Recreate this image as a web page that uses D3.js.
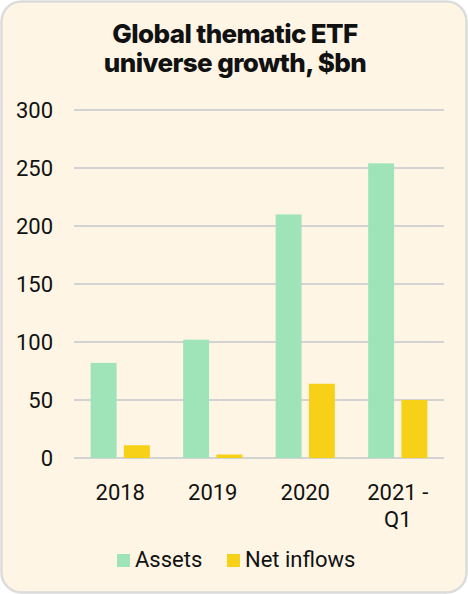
<!DOCTYPE html>
<html>
<head>
<meta charset="utf-8">
<script src="https://cdn.jsdelivr.net/npm/d3@7"></script>
<style>
  html, body { margin: 0; padding: 0; background: #ffffff; }
  svg { display: block; }
</style>
</head>
<body>
<svg id="chart" width="468" height="594"></svg>
<script>
const categories = ["2018", "2019", "2020", "2021 - Q1"];
const seriesNames = ["Assets", "Net inflows"];
const assets = [82, 102, 210, 254];
const netInflows = [11, 3, 64, 50];
const yTicks = [0, 50, 100, 150, 200, 250, 300];

const colors = { "Assets": "#9fe4b8", "Net inflows": "#f7d117" };

const svg = d3.select("#chart");
const width = +svg.attr("width");
const height = +svg.attr("height");
const margins = { top: 110, right: 24, bottom: 136, left: 74 };
const plotW = width - margins.left - margins.right;
const plotH = height - margins.top - margins.bottom;

// card background
svg.append("rect")
  .attr("x", 1.5).attr("y", 1.5)
  .attr("width", width - 3).attr("height", height - 3)
  .attr("rx", 20)
  .attr("fill", "#fef5e5")
  .attr("stroke", "#dcdcdc")
  .attr("stroke-width", 2.5);

// title
const title = svg.append("text")
  .attr("text-anchor", "middle")
  .attr("font-family", "Inter")
  .attr("font-weight", 800)
  .attr("font-size", "26px")
  .attr("letter-spacing", "-0.6px")
  .attr("fill", "#111");
title.append("tspan").attr("x", width / 2 + 1).attr("y", 43).text("Global thematic ETF");
title.append("tspan").attr("x", width / 2 + 1).attr("y", 72).text("universe growth, $bn");

const g = svg.append("g").attr("transform", `translate(${margins.left},${margins.top})`);

const y = d3.scaleLinear().domain([0, 300]).range([plotH, 0]);
const x0 = d3.scaleBand().domain(categories).range([0, plotW]).paddingInner(0.36).paddingOuter(0.18);
const x1 = d3.scaleBand().domain(seriesNames).range([0, x0.bandwidth()]).paddingInner(0.22);

// gridlines
g.selectAll(".grid")
  .data(yTicks)
  .enter()
  .append("line")
  .attr("x1", 0).attr("x2", plotW)
  .attr("y1", d => y(d)).attr("y2", d => y(d))
  .attr("stroke", "#d3d3d3")
  .attr("stroke-width", 2);

// y axis labels
const yAxis = g.append("g").call(d3.axisLeft(y).tickValues(yTicks).tickSize(0).tickPadding(21));
yAxis.select(".domain").remove();
yAxis.selectAll("text")
  .attr("font-family", "Roboto")
  .attr("font-size", "22px")
  .attr("fill", "#111");

// bars
const table = categories.map((c, i) => ({ category: c, values: [
  { series: "Assets", value: assets[i] },
  { series: "Net inflows", value: netInflows[i] }
] }));

const groups = g.selectAll(".group")
  .data(table)
  .enter()
  .append("g")
  .attr("transform", d => `translate(${x0(d.category)},0)`);

groups.selectAll("rect")
  .data(d => d.values)
  .enter()
  .append("rect")
  .attr("x", d => x1(d.series))
  .attr("width", x1.bandwidth())
  .attr("y", d => y(d.value))
  .attr("height", d => y(0) - y(d.value))
  .attr("fill", d => colors[d.series]);

// x axis labels (wrapped)
const xAxis = g.append("g")
  .attr("transform", `translate(0,${plotH})`)
  .call(d3.axisBottom(x0).tickSize(0).tickPadding(26));
xAxis.select(".domain").remove();
xAxis.selectAll("text")
  .attr("font-family", "Roboto")
  .attr("font-size", "22px")
  .attr("fill", "#111")
  .each(function (d) {
    const t = d3.select(this);
    const parts = d.indexOf(" - ") > -1 ? [d.split(" - ")[0] + " -", d.split(" - ")[1]] : [d];
    t.text(null);
    parts.forEach((p, i) => {
      t.append("tspan").attr("x", 0).attr("dy", i === 0 ? "0.71em" : "1.23em").text(p);
    });
  });

// legend
const legend = svg.append("g").attr("transform", "translate(117,554)");
const legendX = [0, 110];
seriesNames.forEach((s, i) => {
  const item = legend.append("g").attr("transform", `translate(${legendX[i]},0)`);
  item.append("rect").attr("width", 13).attr("height", 13).attr("fill", colors[s]);
  item.append("text")
    .attr("x", 18).attr("y", 13)
    .attr("font-family", "Roboto")
    .attr("font-size", "22px")
    .attr("fill", "#111")
    .text(s);
});
</script>
</body>
</html>
